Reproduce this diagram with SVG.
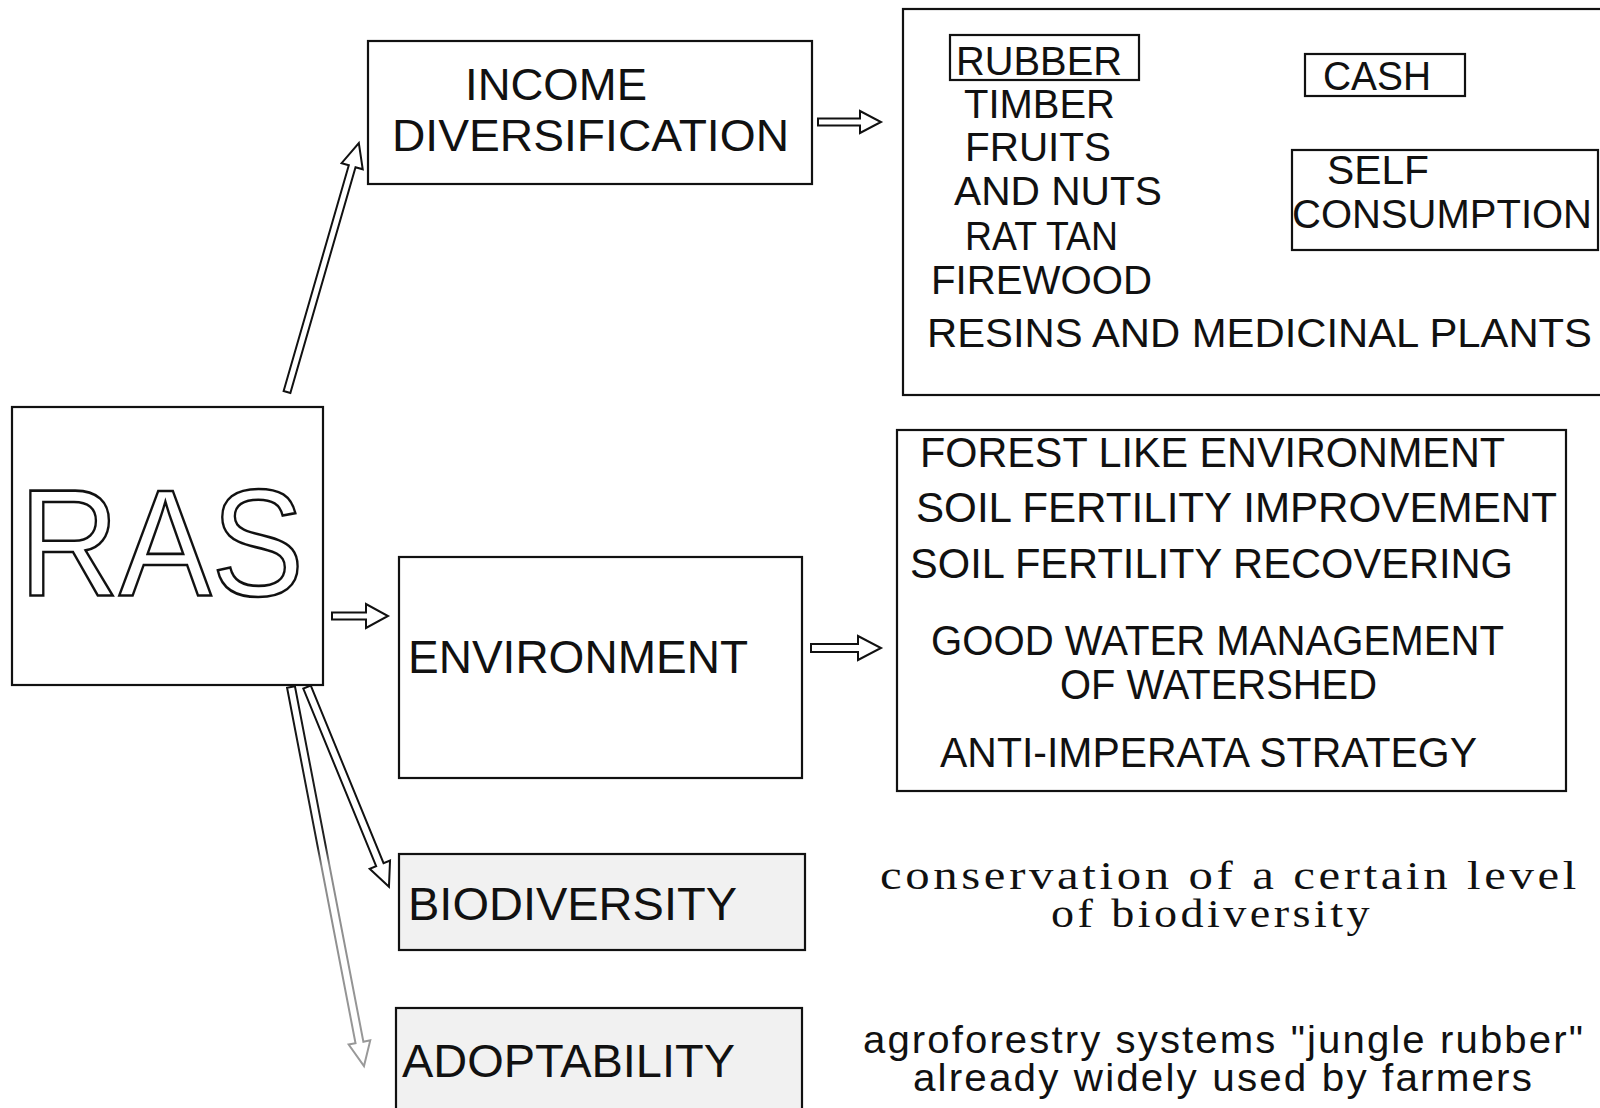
<svg xmlns="http://www.w3.org/2000/svg" width="1600" height="1108" viewBox="0 0 1600 1108">
<style>
.box{fill:#fff;stroke:#111;stroke-width:2.2}
.shade{fill:#f1f1f1;stroke:#111;stroke-width:2.2}
.t{font-family:"Liberation Sans",Arial,sans-serif;fill:#111}
.s{font-family:"Liberation Serif","Times New Roman",serif;fill:#111}
.arr{fill:#fff;stroke:#111;stroke-width:2;stroke-linejoin:miter}
</style>
<defs>
<linearGradient id="fade" gradientUnits="userSpaceOnUse" x1="0" y1="0" x2="386" y2="0">
<stop offset="0" stop-color="#111"/>
<stop offset="0.42" stop-color="#222"/>
<stop offset="0.47" stop-color="#8a8a8a"/>
<stop offset="1" stop-color="#9a9a9a"/>
</linearGradient>
</defs>
<rect width="1600" height="1108" fill="#fff"/>

<g id="connectors">
<path class="arr" transform="translate(287,392) rotate(-73.9)" d="M0,-3.5 L235,-3.5 L235,-11 L259,0 L235,11 L235,3.5 L0,3.5 Z"/>
<path class="arr" transform="translate(332,616)" d="M0,-3.5 L34,-3.5 L34,-12 L56,0 L34,12 L34,3.5 L0,3.5 Z"/>
<path class="arr" transform="translate(818,122)" d="M0,-3.5 L42,-3.5 L42,-11 L63,0 L42,11 L42,3.5 L0,3.5 Z"/>
<path class="arr" transform="translate(811,648)" d="M0,-4 L47,-4 L47,-12 L70,0 L47,12 L47,4 L0,4 Z"/>
<path class="arr" transform="translate(307,687) rotate(67.7)" d="M0,-4 L192,-4 L192,-11 L216,0 L192,11 L192,4 L0,4 Z"/>
<path class="arr" transform="translate(291,687) rotate(79.1)" style="stroke:url(#fade)" d="M0,-4 L362,-4 L362,-11 L386,0 L362,11 L362,4 L0,4 Z"/>
</g>

<g id="ras">
<rect class="box" x="12" y="407" width="311" height="278"/>
<text x="19" y="596" font-size="152" textLength="285" lengthAdjust="spacingAndGlyphs" style="font-family:'Liberation Sans',Arial,sans-serif;fill:#fff;stroke:#111;stroke-width:2.6">RAS</text>
</g>

<g id="income">
<rect class="box" x="368" y="41" width="444" height="143"/>
<text class="t" x="465" y="100" font-size="45" textLength="182" lengthAdjust="spacingAndGlyphs">INCOME</text>
<text class="t" x="392" y="151" font-size="45" textLength="397" lengthAdjust="spacingAndGlyphs">DIVERSIFICATION</text>
</g>

<g id="products">
<rect class="box" x="903" y="9" width="720" height="386"/>
<rect class="box" x="950" y="35" width="189" height="45"/>
<text class="t" x="956" y="75" font-size="41" textLength="166" lengthAdjust="spacingAndGlyphs">RUBBER</text>
<text class="t" x="964" y="118" font-size="41" textLength="151" lengthAdjust="spacingAndGlyphs">TIMBER</text>
<text class="t" x="965" y="161" font-size="41" textLength="146" lengthAdjust="spacingAndGlyphs">FRUITS</text>
<text class="t" x="954" y="205" font-size="41" textLength="208" lengthAdjust="spacingAndGlyphs">AND NUTS</text>
<text class="t" x="965" y="250" font-size="41" textLength="153" lengthAdjust="spacingAndGlyphs">RAT TAN</text>
<text class="t" x="931" y="294" font-size="41" textLength="221" lengthAdjust="spacingAndGlyphs">FIREWOOD</text>
<text class="t" x="927" y="347" font-size="41" textLength="665" lengthAdjust="spacingAndGlyphs">RESINS AND MEDICINAL PLANTS</text>
</g>

<g id="cash">
<rect class="box" x="1305" y="54" width="160" height="42"/>
<text class="t" x="1323" y="90" font-size="40" textLength="108" lengthAdjust="spacingAndGlyphs">CASH</text>
</g>

<g id="self-consumption">
<rect class="box" x="1292" y="150" width="306" height="100"/>
<text class="t" x="1327" y="184" font-size="41" textLength="102" lengthAdjust="spacingAndGlyphs">SELF</text>
<text class="t" x="1292" y="228" font-size="41" textLength="300" lengthAdjust="spacingAndGlyphs">CONSUMPTION</text>
</g>

<g id="environment">
<rect class="box" x="399" y="557" width="403" height="221"/>
<text class="t" x="408" y="673" font-size="46" textLength="340" lengthAdjust="spacingAndGlyphs">ENVIRONMENT</text>
</g>

<g id="env-effects">
<rect class="box" x="897" y="430" width="669" height="361"/>
<text class="t" x="920" y="467" font-size="43" textLength="585" lengthAdjust="spacingAndGlyphs">FOREST LIKE ENVIRONMENT</text>
<text class="t" x="916" y="522" font-size="43" textLength="641" lengthAdjust="spacingAndGlyphs">SOIL FERTILITY IMPROVEMENT</text>
<text class="t" x="910" y="578" font-size="43" textLength="603" lengthAdjust="spacingAndGlyphs">SOIL FERTILITY RECOVERING</text>
<text class="t" x="931" y="655" font-size="43" textLength="573" lengthAdjust="spacingAndGlyphs">GOOD WATER MANAGEMENT</text>
<text class="t" x="1060" y="699" font-size="43" textLength="317" lengthAdjust="spacingAndGlyphs">OF WATERSHED</text>
<text class="t" x="940" y="767" font-size="43" textLength="537" lengthAdjust="spacingAndGlyphs">ANTI-IMPERATA STRATEGY</text>
</g>

<g id="biodiversity">
<rect class="shade" x="399" y="854" width="406" height="96"/>
<text class="t" x="408" y="920" font-size="47" textLength="329" lengthAdjust="spacingAndGlyphs">BIODIVERSITY</text>
</g>

<g id="adoptability">
<rect class="shade" x="396" y="1008" width="406" height="110"/>
<text class="t" x="402" y="1077" font-size="47" textLength="333" lengthAdjust="spacingAndGlyphs">ADOPTABILITY</text>
</g>

<g id="biodiversity-note">
<text class="s" x="880" y="889" font-size="40" textLength="700" lengthAdjust="spacingAndGlyphs" letter-spacing="3">conservation of a certain level</text>
<text class="s" x="1051" y="927" font-size="40" textLength="322" lengthAdjust="spacingAndGlyphs" letter-spacing="3">of biodiversity</text>
</g>

<g id="adoptability-note">
<text class="t" x="863" y="1053" font-size="38" textLength="722" lengthAdjust="spacingAndGlyphs" letter-spacing="2">agroforestry systems "jungle rubber"</text>
<text class="t" x="913" y="1091" font-size="38" textLength="621" lengthAdjust="spacingAndGlyphs" letter-spacing="2">already widely used by farmers</text>
</g>
</svg>
